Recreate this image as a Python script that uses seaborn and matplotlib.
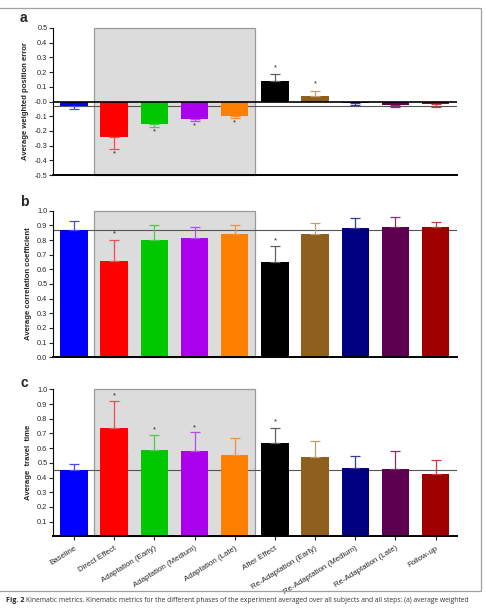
import numpy as np
import matplotlib
matplotlib.use('Agg')
import matplotlib.pyplot as plt
import seaborn as sns
from matplotlib.patches import Rectangle

# phases of the experiment
phases = ['Baseline', 'Direct Effect', 'Adaptation (Early)', 'Adaptation (Medium)',
          'Adaptation (Late)', 'After Effect', 'Re-Adaptation (Early)',
          'Re-Adaptation (Medium)', 'Re-Adaptation (Late)', 'Follow-up']
colors = ['#0000ff', '#ff0000', '#00c800', '#aa00ee', '#ff8000',
          '#000000', '#8f5f1e', '#000080', '#5e0050', '#a00000']
err_colors = ['#4a4ae0', '#e85050', '#50c850', '#b84ae8', '#f09040',
              '#606060', '#c0a070', '#3a3a90', '#803070', '#c04040']

# a) average weighted position error
pos_err = [-0.030, -0.240, -0.153, -0.117, -0.099, 0.137, 0.040, -0.012, -0.022, -0.017]
pos_sd = [0.024, 0.083, 0.018, 0.013, 0.015, 0.048, 0.033, 0.014, 0.018, 0.018]
pos_star = [None, -0.357, -0.21, -0.169, -0.148, 0.228, 0.117, None, None, None]

# b) average correlation coefficient
corr = [0.870, 0.659, 0.800, 0.816, 0.843, 0.650, 0.839, 0.880, 0.891, 0.887]
corr_sd = [0.060, 0.139, 0.100, 0.071, 0.059, 0.110, 0.075, 0.072, 0.064, 0.038]
corr_star = [None, 0.84, None, None, None, 0.795, None, None, None, None]

# c) average travel time
travel = [0.449, 0.739, 0.585, 0.583, 0.553, 0.637, 0.542, 0.467, 0.456, 0.422]
travel_sd = [0.045, 0.184, 0.106, 0.125, 0.114, 0.102, 0.104, 0.082, 0.122, 0.097]
travel_star = [None, 0.957, 0.723, 0.737, None, 0.776, None, None, None, None]

sns.set_style('white')
plt.rcParams['font.family'] = ['Liberation Sans', 'DejaVu Sans']

W, H = 486, 610
fig = plt.figure(figsize=(W / 100, H / 100), dpi=100)


def px_axes(left, top, right, bottom):
    return fig.add_axes([left / W, 1 - bottom / H, (right - left) / W, (bottom - top) / H])


def panel(ax, vals, sd, stars, ylim, yticks, ylabel, ref, zero_line=False, xlabels=False):
    sns.barplot(x=phases, y=vals, hue=phases, palette=colors, width=0.68,
                legend=False, ax=ax, zorder=3, saturation=1, linewidth=0)
    for i, (v, s) in enumerate(zip(vals, sd)):
        yerr = [[0], [s]] if v >= 0 else [[s], [0]]
        ax.errorbar(i, v, yerr=yerr, fmt='none', ecolor=err_colors[i],
                    elinewidth=0.9, capsize=3.6, capthick=0.9, zorder=4)
        if stars[i] is not None:
            ax.text(i, stars[i], '*', ha='center', va='center', fontsize=5.5, zorder=5)
    ax.add_patch(Rectangle((0.5, ylim[0]), 4.0, ylim[1] - ylim[0], facecolor='#dcdcdc',
                           edgecolor='#9a9a9a', lw=0.9, zorder=1, clip_on=False))
    ax.axhline(ref, color='#555555', lw=0.8, zorder=2)
    if zero_line:
        ax.axhline(0, color='black', lw=1.2, zorder=5)
    ax.set_xlim(-0.52, 9.53)
    ax.set_ylim(*ylim)
    ax.set_yticks(yticks)
    ax.set_yticklabels([f'{t:.1f}' for t in yticks], fontsize=5.3)
    ax.tick_params(axis='y', direction='out', length=3, width=0.8, pad=1, left=True)
    ax.set_ylabel(ylabel, fontsize=5.6, fontweight='bold', labelpad=4)
    for side in ['top', 'right']:
        ax.spines[side].set_visible(False)
    ax.spines['left'].set_linewidth(0.8)
    ax.spines['bottom'].set_linewidth(1.4)
    ax.spines['left'].set_color('black')
    ax.spines['bottom'].set_color('black')
    ax.spines['bottom'].set_zorder(6)
    if xlabels:
        ax.set_xticks(range(len(phases)))
        ax.set_xticklabels(phases, rotation=32, ha='right', rotation_mode='anchor', fontsize=5.7)
        ax.tick_params(axis='x', direction='out', length=3, width=0.8, pad=3, bottom=True)
    else:
        ax.set_xticks([])
    ax.set_xlabel('')


ax_a = px_axes(53, 28, 457, 175)
panel(ax_a, pos_err, pos_sd, pos_star, (-0.5, 0.5), np.round(np.arange(-0.5, 0.51, 0.1), 1),
      'Average weighted position error', pos_err[0], zero_line=True)

ax_b = px_axes(53, 210.7, 457, 357.3)
panel(ax_b, corr, corr_sd, corr_star, (0, 1.0), np.round(np.arange(0, 1.01, 0.1), 1),
      'Average correlation coefficient', corr[0])

ax_c = px_axes(53, 389.3, 457, 536.4)
panel(ax_c, travel, travel_sd, travel_star, (0, 1.0), np.round(np.arange(0.1, 1.01, 0.1), 1),
      'Average  travel  time', travel[0], xlabels=True)

for lab, y in zip(['a', 'b', 'c'], [18, 202, 383]):
    fig.text(20 / W, 1 - y / H, lab, fontsize=10, fontweight='bold', ha='left', va='center')

# outer frame
fig.patches.append(Rectangle((-2 / W, 1 - 591 / H), 483 / W, 583 / H, transform=fig.transFigure,
                             fill=False, edgecolor='#a0a0a0', lw=0.9))

cap_y = 1 - 601 / H
fig.text(6 / W, cap_y, 'Fig. 2', fontsize=5.2, fontweight='bold', va='center',
         family=['Open Sans', 'DejaVu Sans'])
cap = fig.text(26 / W, cap_y, 'Kinematic metrics. Kinematic metrics for the different phases of the '
               'experiment averaged over all subjects and all steps: (a) average weighted',
               fontsize=5.0, va='center', color='#333333', family=['Open Sans', 'DejaVu Sans'])
# shrink caption so that it fits the line width of the reference
fig.canvas.draw()
w = cap.get_window_extent().width
cap.set_fontsize(5.0 * 453 / w)

fig.savefig('out.png', dpi=100)
